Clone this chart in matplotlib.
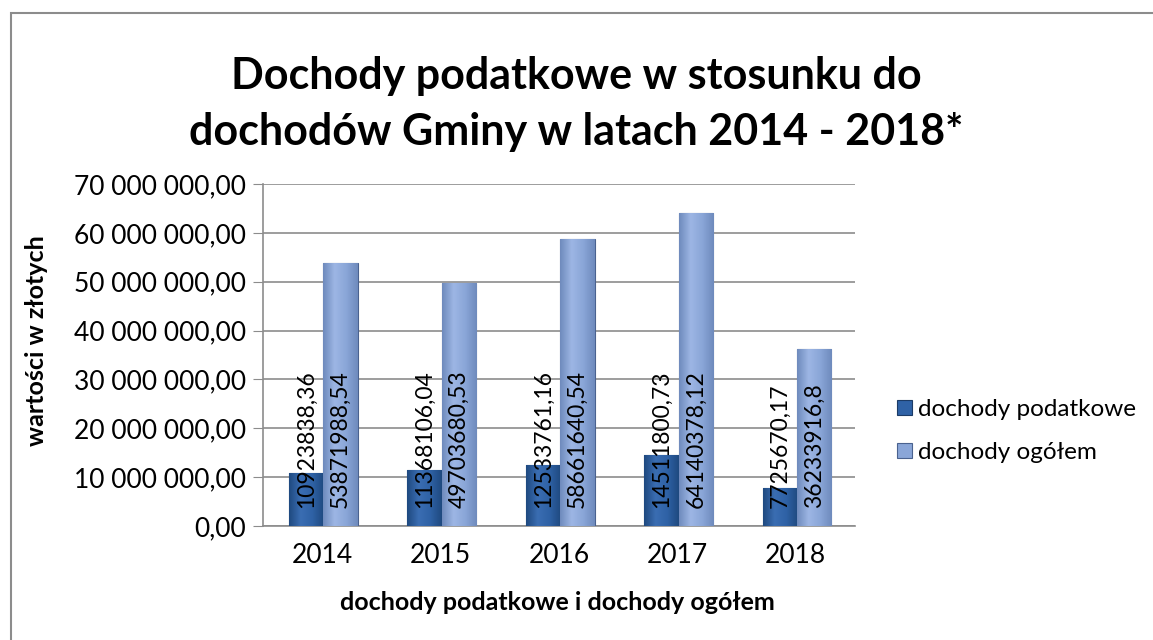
import numpy as np
import matplotlib.pyplot as plt
from matplotlib.patches import Rectangle
from matplotlib.colors import LinearSegmentedColormap

plt.rcParams['font.family'] = ['Lato', 'DejaVu Sans']

years = ['2014', '2015', '2016', '2017', '2018']
podatkowe = [10923838.36, 11368106.04, 12533761.16, 14511800.73, 7725670.17]
ogolem = [53871988.54, 49703680.53, 58661640.54, 64140378.12, 36233916.8]
podatkowe_lbl = ['10923838,36', '11368106,04', '12533761,16', '14511800,73', '7725670,17']
ogolem_lbl = ['53871988,54', '49703680,53', '58661640,54', '64140378,12', '36233916,8']

W, H = 1153, 640
fig = plt.figure(figsize=(W / 100, H / 100), dpi=100)
ax = fig.add_axes([263 / W, 1 - 526 / H, 592 / W, (526 - 184) / H])

# outer frame of the chart area
fig.add_artist(Rectangle((11 / W, -0.1), 1.2, 1 - 13 / H + 0.1, transform=fig.transFigure,
                         fill=False, edgecolor='#8c8c8c', linewidth=1.5))

x = np.arange(len(years))
w = 0.29
dark_cmap = LinearSegmentedColormap.from_list('d', ['#1f4a80', '#3a6db2', '#2f62a6', '#1f4a80'])
light_cmap = LinearSegmentedColormap.from_list('l', ['#6f8bbd', '#9db6e4', '#8aa6d8', '#6f8bbd'])

b1 = ax.bar(x + 0.01 - w / 2, podatkowe, w, color='#2f62a6', edgecolor='#1c3b66', linewidth=0.8,
            label='dochody podatkowe', zorder=3)
b2 = ax.bar(x + 0.01 + w / 2, ogolem, w, color='#8aa6d8', edgecolor='#4a628f', linewidth=0.8,
            label='dochody ogółem', zorder=3)

grad = np.linspace(0, 1, 64).reshape(1, -1)
for bars, cm in ((b1, dark_cmap), (b2, light_cmap)):
    for r in bars:
        x0, y0 = r.get_x(), r.get_y()
        im = ax.imshow(grad, cmap=cm, aspect='auto', zorder=3.5,
                       extent=(x0, x0 + r.get_width(), y0, y0 + r.get_height()))
        im.set_clip_path(r)

ax.set_xlim(-0.5, 4.5)
ax.set_ylim(0, 70000000)
ax.set_xticks(x)
ax.set_xticklabels(years, fontsize=19)
yt = np.arange(0, 70000001, 10000000)
ax.set_yticks(yt)
ax.set_yticklabels(['0,00'] + [f'{v:,.0f}'.replace(',', ' ') + ',00' for v in yt[1:]], fontsize=19)
ax.tick_params(axis='x', length=0, pad=12)
ax.tick_params(axis='y', length=7, color='#8c8c8c', pad=5)
ax.grid(axis='y', color='#8c8c8c', linewidth=1.2, zorder=0)
for s in ['top', 'right']:
    ax.spines[s].set_visible(False)
for s in ['left', 'bottom']:
    ax.spines[s].set_color('#8c8c8c')
    ax.spines[s].set_linewidth(1.2)

for r, t in zip(list(b1) + list(b2), podatkowe_lbl + ogolem_lbl):
    ax.text(r.get_x() + r.get_width() / 2, 3700000, t, rotation=90, ha='center', va='bottom',
            fontsize=16.5, color='black', zorder=5)

fig.text(37 / W, 1 - 341 / H, 'wartości w złotych', rotation=90, ha='center', va='center',
         fontsize=18, fontweight='bold')
fig.text(557 / W, 1 - 603 / H, 'dochody podatkowe i dochody ogółem', ha='center', va='center',
         fontsize=18, fontweight='bold')

fig.text(576 / W, 1 - 104 / H, 'Dochody podatkowe w stosunku do\ndochodów Gminy w latach 2014 - 2018*',
         ha='center', va='center', fontsize=31, fontweight='bold', linespacing=1.5)

fig.legend(handles=[b1, b2], loc='center left', bbox_to_anchor=(885 / W, 1 - 431 / H),
           frameon=False, fontsize=17.5, handlelength=0.6, handleheight=0.6, handletextpad=0.25,
           labelspacing=0.9, borderpad=0)

fig.savefig('out.png', dpi=100)
